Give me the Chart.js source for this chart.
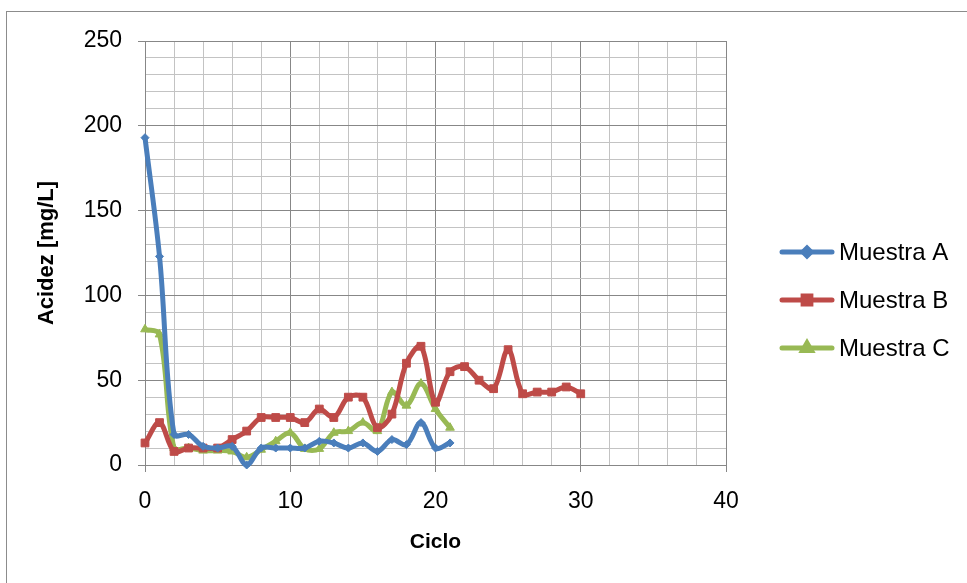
<!DOCTYPE html>
<html>
<head>
<meta charset="utf-8">
<title>Acidez por ciclo</title>
<script src="https://cdn.jsdelivr.net/npm/chart.js@4/dist/chart.umd.min.js"></script>
<style>
  html, body { margin: 0; padding: 0; background: #ffffff; }
  #wrap { width: 967px; height: 583px; }
</style>
</head>
<body>
<div id="wrap"><canvas id="c" width="967" height="583"></canvas></div>
<script>
// Acidity readings (mg/L) for each cycle
const ciclosA = [0, 1, 2, 3, 4, 5, 6, 7, 8, 9, 10, 11, 12, 13, 14, 15, 16, 17, 18, 19, 20, 21];
const muestraA = [193, 123, 18, 18, 11, 10, 11, 0, 10, 10, 10, 10, 14, 13, 10, 13, 8, 15, 12, 25, 10, 13];

const ciclosB = [0, 1, 2, 3, 4, 5, 6, 7, 8, 9, 10, 11, 12, 13, 14, 15, 16, 17, 18, 19, 20, 21, 22, 23, 24, 25, 26, 27, 28, 29, 30];
const muestraB = [13, 25, 8, 10, 10, 10, 15, 20, 28, 28, 28, 25, 33, 28, 40, 40, 22, 30, 60, 70, 37, 55, 58, 50, 45, 68, 42, 43, 43, 46, 42];

const ciclosC = [0, 1, 2, 3, 4, 5, 6, 7, 8, 9, 10, 11, 12, 13, 14, 15, 16, 17, 18, 19, 20, 21];
const muestraC = [80, 77, 10, 10, 8.5, 8.5, 8, 4.5, 9, 14, 19, 9.5, 9.5, 19, 20, 25, 20, 43, 35, 48, 33, 22];

const seriesNames = ['Muestra A', 'Muestra B', 'Muestra C'];
const xTickLabels = [0, 10, 20, 30, 40];
const yTickLabels = [0, 50, 100, 150, 200, 250];
const xTitle = 'Ciclo';
const yTitle = 'Acidez [mg/L]';

const colors = ['#4A7EBB', '#BE4B48', '#98B954'];
const markers = ['rectRot', 'rect', 'triangle'];
const markerRadius = [4, 5.5, 5];

const toPoints = (xs, ys) => xs.map((x, i) => ({ x: x, y: ys[i] }));

const FONT = '"Liberation Sans", Arial, sans-serif';
const MAJOR = '#878787';
const MINOR = '#c3c3c3';

function makeDataset(i, xs, ys) {
  return {
    label: seriesNames[i],
    data: toPoints(xs, ys),
    borderColor: colors[i],
    backgroundColor: colors[i],
    borderWidth: 5,
    borderCapStyle: 'round',
    borderJoinStyle: 'round',
    tension: 0.35,
    pointStyle: markers[i],
    pointRadius: markerRadius[i],
    pointBorderWidth: 1,
    pointBackgroundColor: colors[i],
    pointBorderColor: colors[i],
    clip: 12
  };
}

// Frame, axis titles and side legend
const decorations = {
  id: 'decorations',
  beforeDraw(chart) {
    const ctx = chart.ctx;
    ctx.save();
    ctx.fillStyle = '#ffffff';
    ctx.fillRect(0, 0, chart.width, chart.height);
    ctx.strokeStyle = '#8c8c8c';
    ctx.lineWidth = 1;
    ctx.strokeRect(6.5, 11.5, chart.width + 20, chart.height + 20);
    ctx.restore();
  },
  afterDraw(chart) {
    const ctx = chart.ctx;
    const area = chart.chartArea;
    ctx.save();
    ctx.fillStyle = '#000000';

    // x title
    ctx.font = 'bold 21px ' + FONT;
    ctx.textAlign = 'center';
    ctx.textBaseline = 'middle';
    ctx.fillText(xTitle, (area.left + area.right) / 2, 542);

    // y title
    ctx.save();
    ctx.font = 'bold 22px ' + FONT;
    ctx.translate(47, (area.top + area.bottom) / 2);
    ctx.rotate(-Math.PI / 2);
    ctx.fillText(yTitle, 0, 0);
    ctx.restore();

    // legend
    chart.data.datasets.forEach((ds, i) => {
      const y = 252 + i * 48;
      ctx.strokeStyle = ds.borderColor;
      ctx.lineWidth = 5;
      ctx.lineCap = 'round';
      ctx.beginPath();
      ctx.moveTo(782, y);
      ctx.lineTo(832, y);
      ctx.stroke();
      ctx.fillStyle = ds.backgroundColor;
      Chart.helpers.drawPoint(ctx, {
        pointStyle: ds.pointStyle,
        rotation: 0,
        radius: ds.pointRadius,
        borderWidth: 1
      }, 807, y);
      ctx.fillStyle = '#000000';
      ctx.font = '24px ' + FONT;
      ctx.textAlign = 'left';
      ctx.textBaseline = 'middle';
      ctx.fillText(ds.label, 839, y + 1);
    });
    ctx.restore();
  }
};

new Chart(document.getElementById('c'), {
  type: 'line',
  data: {
    datasets: [
      makeDataset(0, ciclosA, muestraA),
      makeDataset(1, ciclosB, muestraB),
      makeDataset(2, ciclosC, muestraC)
    ]
  },
  options: {
    responsive: false,
    animation: false,
    devicePixelRatio: 1,
    layout: { padding: { left: 0, top: 41, right: 241, bottom: 0 } },
    plugins: {
      legend: { display: false },
      tooltip: { enabled: false }
    },
    scales: {
      x: {
        type: 'linear',
        min: 0,
        max: 40,
        afterFit(scale) { scale.height = 118; },
        ticks: {
          stepSize: 2,
          autoSkip: false,
          maxRotation: 0,
          padding: 16,
          color: '#000000',
          font: { family: FONT, size: 23 },
          callback: v => xTickLabels.includes(v) ? String(v) : ''
        },
        grid: {
          color: c => (c.tick && c.tick.value % 10 === 0) ? MAJOR : MINOR,
          lineWidth: 1,
          tickLength: 7,
          tickColor: c => (c.tick && c.tick.value % 10 === 0) ? MAJOR : 'rgba(0,0,0,0)'
        },
        border: { display: true, color: MAJOR }
      },
      y: {
        type: 'linear',
        min: 0,
        max: 250,
        afterFit(scale) { scale.width = 145; },
        ticks: {
          stepSize: 10,
          autoSkip: false,
          padding: 16,
          color: '#000000',
          font: { family: FONT, size: 23 },
          callback: v => yTickLabels.includes(v) ? String(v) : ''
        },
        grid: {
          color: c => (c.tick && c.tick.value % 50 === 0) ? MAJOR : MINOR,
          lineWidth: 1,
          tickLength: 7,
          tickColor: c => (c.tick && c.tick.value % 50 === 0) ? MAJOR : 'rgba(0,0,0,0)'
        },
        border: { display: true, color: MAJOR }
      }
    }
  },
  plugins: [decorations]
});
</script>
</body>
</html>
